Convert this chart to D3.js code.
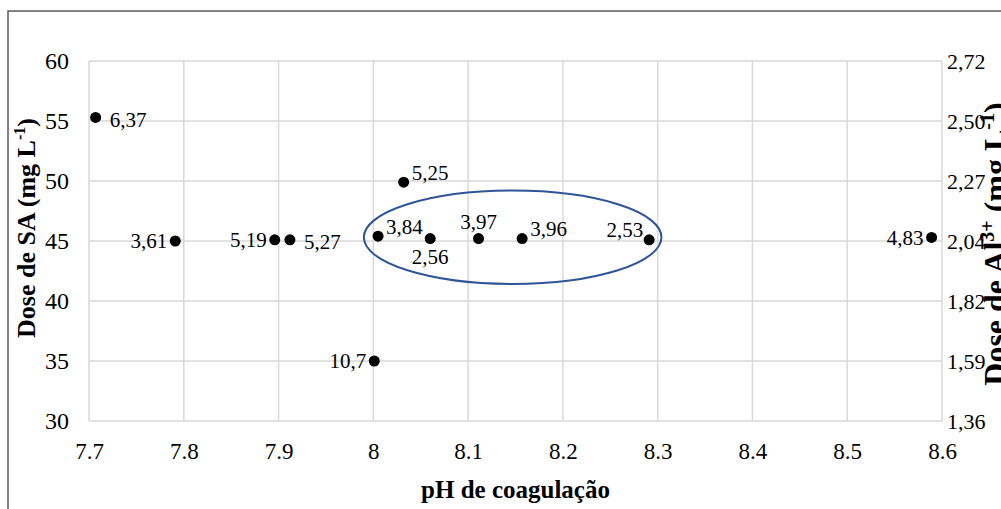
<!DOCTYPE html>
<html>
<head>
<meta charset="utf-8">
<script src="https://cdn.jsdelivr.net/npm/d3@7"></script>
<style>
  body { margin: 0; background: #fff; }
  svg { display: block; font-family: "Liberation Serif", "Times New Roman", serif; }
  .grid line { stroke: #d9d9d9; stroke-width: 1.5; }
  .tick text { fill: #000; font-family: "Liberation Serif", "Times New Roman", serif; }
  .title { font-weight: bold; fill: #000; }
</style>
</head>
<body>
<svg id="chart" width="1001" height="509"></svg>
<script>
// pH de coagulação (x) / dose de SA (y) / rótulo com o valor medido
const phValues = [7.707, 7.791, 7.896, 7.912, 8.005, 8.032, 8.060, 8.111, 8.157, 8.291, 8.001, 8.589];
const saDoses = [55.3, 45.0, 45.1, 45.1, 45.4, 49.9, 45.2, 45.2, 45.2, 45.1, 35.0, 45.3];
const pointLabels = ["6,37", "3,61", "5,19", "5,27", "3,84", "5,25", "2,56", "3,97", "3,96", "2,53", "10,7", "4,83"];

const xTicks = [7.7, 7.8, 7.9, 8.0, 8.1, 8.2, 8.3, 8.4, 8.5, 8.6];
const yTicks = [30, 35, 40, 45, 50, 55, 60];
const alTickLabels = ["1,36", "1,59", "1,82", "2,04", "2,27", "2,50", "2,72"];

// ellipse highlighting the cluster (data units)
const cluster = {ph: 8.147, sa: 45.31, rPh: 0.157, rSa: 3.89};

// label side for each point
const labelSide = ["r", "l", "l", "r", "ur", "ur", "b", "a", "ur", "ul", "l", "l"];
const SIDES = {
    r:  {dx: 14, dy: 2, anchor: "start"},
    l:  {dx: -8, dy: 0, anchor: "end"},
    ur: {dx: 8, dy: -10, anchor: "start"},
    ul: {dx: -6, dy: -10, anchor: "end"},
    a:  {dx: 0, dy: -17, anchor: "middle"},
    b:  {dx: 0, dy: 18, anchor: "middle"},
};

const MARGIN = {top: 61, right: 59, bottom: 88, left: 89};
const svg = d3.select("#chart");
const width = +svg.attr("width");
const height = +svg.attr("height");

const x = d3.scaleLinear().domain([7.7, 8.6]).range([MARGIN.left, width - MARGIN.right]);
const y = d3.scaleLinear().domain([30, 60]).range([height - MARGIN.bottom, MARGIN.top]);

// outer chart border (only top and left visible)
svg.append("path")
    .attr("d", `M8,${height} V11 H${width}`)
    .attr("fill", "none")
    .attr("stroke", "#595959")
    .attr("stroke-width", 1.5);

// gridlines
const grid = svg.append("g").attr("class", "grid");
grid.selectAll(".v").data(xTicks).join("line")
    .attr("x1", d => x(d)).attr("x2", d => x(d))
    .attr("y1", y(30)).attr("y2", y(60));
grid.selectAll(".h").data(yTicks).join("line")
    .attr("x1", x(7.7)).attr("x2", x(8.6))
    .attr("y1", d => y(d)).attr("y2", d => y(d));

// axes (labels only, no domain / tick marks)
function styleAxis(g, size) {
    g.attr("font-family", "Liberation Serif, serif").attr("font-size", size);
    g.select(".domain").remove();
}

svg.append("g")
    .attr("transform", `translate(0, ${y(30)})`)
    .call(d3.axisBottom(x).tickValues(xTicks).tickSize(0).tickPadding(22)
        .tickFormat(d => d === 8 ? "8" : d3.format(".1f")(d)))
    .call(styleAxis, 23);

svg.append("g")
    .attr("transform", `translate(${x(7.7)}, 0)`)
    .call(d3.axisLeft(y).tickValues(yTicks).tickSize(0).tickPadding(20))
    .call(styleAxis, 24);

svg.append("g")
    .attr("transform", `translate(${x(8.6)}, 0)`)
    .call(d3.axisRight(y).tickValues(yTicks).tickSize(0).tickPadding(5)
        .tickFormat((d, i) => alTickLabels[i]))
    .call(styleAxis, 22);

// axis titles
svg.append("text")
    .attr("class", "title")
    .attr("x", x(8.15)).attr("y", 498)
    .attr("text-anchor", "middle")
    .attr("font-size", 25)
    .text("pH de coagulação");

const leftTitle = svg.append("text")
    .attr("class", "title")
    .attr("transform", "translate(35, 228) rotate(-90)")
    .attr("text-anchor", "middle")
    .attr("font-size", 26);
leftTitle.append("tspan").text("Dose de SA (mg L");
leftTitle.append("tspan").attr("font-size", 16).attr("dy", -10).text("-1");
leftTitle.append("tspan").attr("dy", 10).text(")");

const rightTitle = svg.append("text")
    .attr("class", "title")
    .attr("transform", "translate(1006, 244) rotate(-90)")
    .attr("text-anchor", "middle")
    .attr("font-size", 32);
rightTitle.append("tspan").text("Dose de Al");
rightTitle.append("tspan").attr("font-size", 20).attr("dy", -12).text("3+");
rightTitle.append("tspan").attr("dy", 12).text(" (mg L");
rightTitle.append("tspan").attr("font-size", 20).attr("dy", -12).text("-1");
rightTitle.append("tspan").attr("dy", 12).text(")");

// cluster ellipse
svg.append("ellipse")
    .attr("cx", x(cluster.ph))
    .attr("cy", y(cluster.sa))
    .attr("rx", x(cluster.ph + cluster.rPh) - x(cluster.ph))
    .attr("ry", y(cluster.sa - cluster.rSa) - y(cluster.sa))
    .attr("fill", "none")
    .attr("stroke", "#2f5597")
    .attr("stroke-width", 2);

// points + labels
const points = phValues.map((ph, i) => ({ph, sa: saDoses[i], label: pointLabels[i], side: SIDES[labelSide[i]]}));

svg.append("g").selectAll("circle").data(points).join("circle")
    .attr("cx", d => x(d.ph))
    .attr("cy", d => y(d.sa))
    .attr("r", 5.5)
    .attr("fill", "#000");

svg.append("g").selectAll("text").data(points).join("text")
    .attr("x", d => x(d.ph) + d.side.dx)
    .attr("y", d => y(d.sa) + d.side.dy)
    .attr("dy", "0.35em")
    .attr("text-anchor", d => d.side.anchor)
    .attr("font-size", 21)
    .text(d => d.label);
</script>
</body>
</html>
